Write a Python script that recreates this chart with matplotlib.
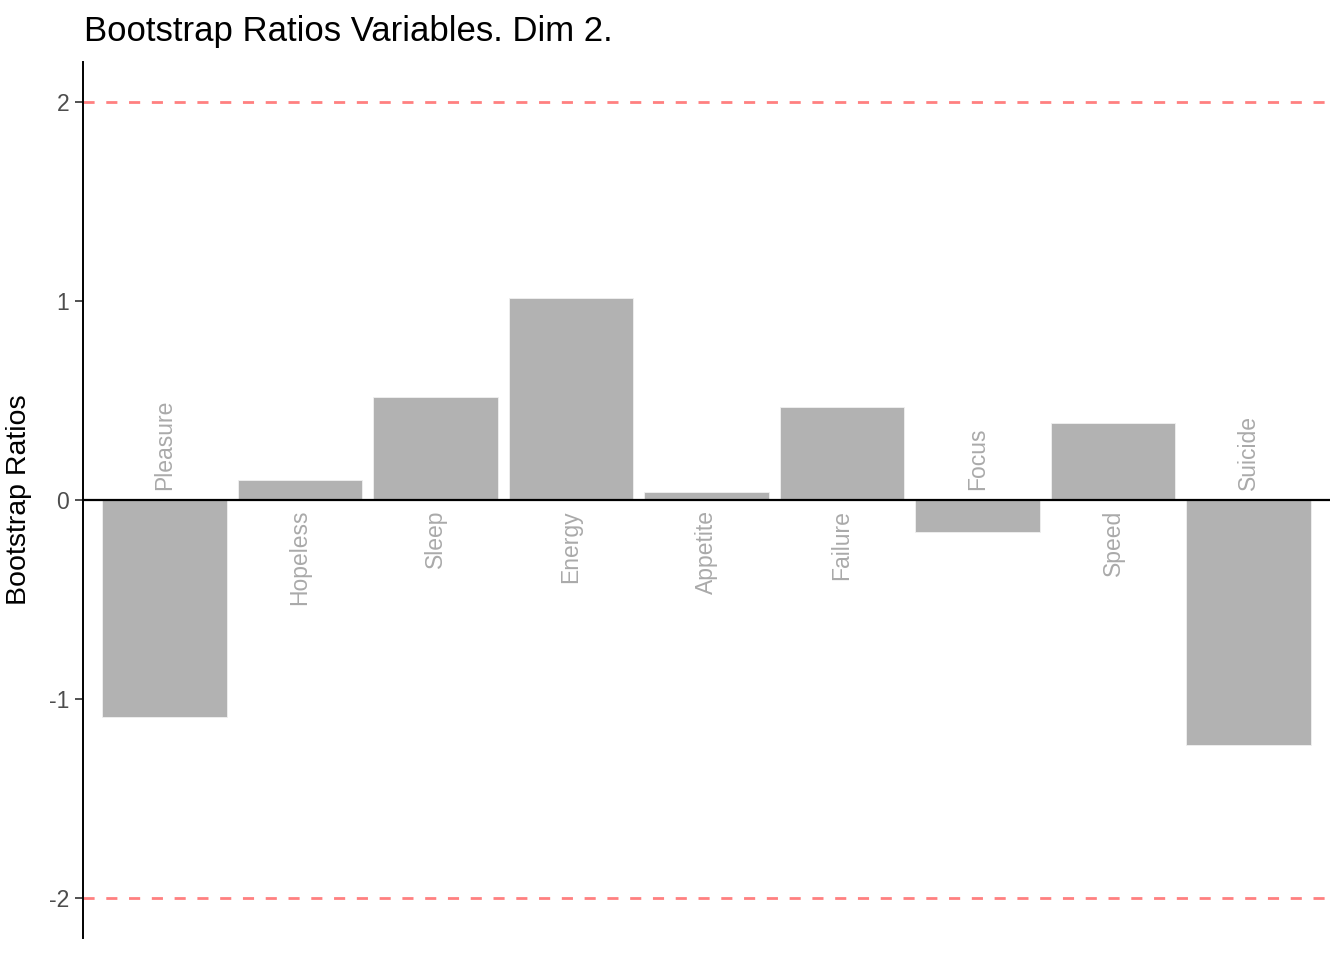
import matplotlib
matplotlib.use('Agg')
import matplotlib.pyplot as plt
import numpy as np

plt.rcParams['font.family'] = ['Liberation Sans', 'DejaVu Sans']

# Data
variables = ['Pleasure', 'Hopeless', 'Sleep', 'Energy', 'Appetite',
             'Failure', 'Focus', 'Speed', 'Suicide']
ratios = [-1.089, 0.100, 0.517, 1.014, 0.040, 0.467, -0.161, 0.386, -1.229]
threshold = 2
y_ticks = [-2, -1, 0, 1, 2]

fig = plt.figure(figsize=(13.44, 9.6), dpi=100)
ax = fig.add_axes([83 / 1344, 22 / 960, (1330 - 83) / 1344, (938 - 62) / 960])

x = np.arange(1, len(variables) + 1)
ax.bar(x, ratios, width=0.92, color='#b2b2b2', edgecolor='#f0f0f0',
       linewidth=0.6, zorder=2)

ax.axhline(0, color='black', linewidth=1.6, zorder=3)
for t in (threshold, -threshold):
    ax.axhline(t, color='#ff8080', linewidth=2, linestyle=(0, (4, 4.2)), zorder=1)

off = 0.05
for xi, name, v in zip(x, variables, ratios):
    if v >= 0:
        ax.text(xi, -off, name, rotation=90, ha='center', va='top',
                color='#aaaaaa', fontsize=16.5, zorder=4)
    else:
        ax.text(xi, off, name, rotation=90, ha='center', va='bottom',
                color='#aaaaaa', fontsize=16.5, zorder=4)

ax.set_xlim(0.4, len(variables) + 0.6)
ax.set_ylim(-2.2, 2.2)
ax.set_yticks(y_ticks)
ax.set_yticklabels([str(t) for t in y_ticks])
ax.set_xticks([])

for s in ('top', 'right', 'bottom'):
    ax.spines[s].set_visible(False)
ax.spines['left'].set_linewidth(1.4)
ax.tick_params(axis='y', length=6, width=1.2, color='#333333',
               labelsize=16.5, labelcolor='#4d4d4d', pad=4)

ax.set_ylabel('Bootstrap Ratios', fontsize=20.5, labelpad=12)
fig.text(84 / 1344, 1 - 31 / 960, 'Bootstrap Ratios Variables. Dim 2.',
         fontsize=25, ha='left', va='center')

fig.savefig('out.png', dpi=100)
